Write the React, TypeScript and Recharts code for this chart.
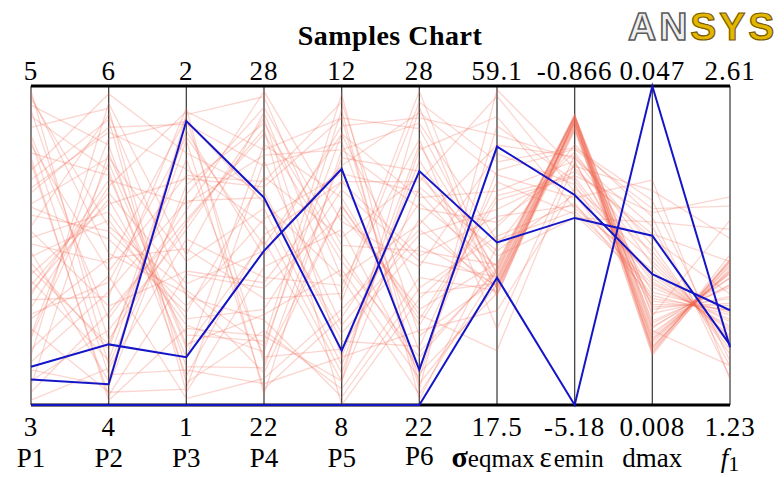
import React from 'react';
import { LineChart, Line, XAxis, YAxis, ReferenceLine } from 'recharts';

// Axis definitions
const axisKeys = ['P1', 'P2', 'P3', 'P4', 'P5', 'P6', 'seqmax', 'eemin', 'dmax', 'f1'];
const maxLabels = ['5', '6', '2', '28', '12', '28', '59.1', '-0.866', '0.047', '2.61'];
const minLabels = ['3', '4', '1', '22', '8', '22', '17.5', '-5.18', '0.008', '1.23'];

// Background samples (one value per sample, per axis)
const p1Values = [4.92, 3.15, 4.41, 3.78, 4.63, 3.42, 4.05, 3.96, 4.88, 3.27, 4.52, 3.61, 4.74, 3.08, 4.19, 3.85, 4.33, 3.54, 4.97, 3.71, 4.26, 3.35, 4.58, 3.89, 4.12, 3.22, 4.81, 3.66, 4.47, 3.03, 4.69, 3.93, 4.36, 3.48, 4.01, 3.75, 4.85, 3.12, 4.24, 3.57, 4.66, 3.31, 4.09, 3.82, 4.55, 3.44, 4.94, 3.69];
const p2Values = [5.12, 4.47, 5.79, 4.28, 4.84, 5.52, 5.21, 4.15, 5.63, 4.71, 4.06, 5.37, 5.86, 4.58, 5.09, 4.38, 5.74, 4.92, 4.25, 5.29, 5.55, 4.81, 5.44, 4.35, 5.82, 4.12, 5.47, 4.68, 5.95, 4.23, 4.54, 5.16, 5.71, 4.08, 4.89, 5.33, 4.41, 5.58, 5.04, 4.77, 4.19, 5.89, 4.62, 5.26, 4.03, 5.67, 4.95, 5.41];
const p3Values = [1.36, 1.55, 1.04, 1.83, 1.72, 1.18, 1.27, 1.91, 1.12, 1.64, 1.41, 1.92, 1.07, 1.58, 1.31, 1.77, 1.88, 1.49, 1.66, 1.22, 1.45, 1.02, 1.15, 1.86, 1.34, 1.69, 1.09, 1.93, 1.79, 1.52, 1.61, 1.25, 1.74, 1.05, 1.9, 1.38, 1.57, 1.19, 1.29, 1.84, 1.11, 1.47, 1.42, 1.71, 1.24, 1.89, 1.35, 1.63];
const p4Values = [23.1, 27.4, 24.6, 22.3, 26.2, 25.1, 23.8, 27.8, 22.7, 25.9, 24.2, 26.8, 23.4, 27.1, 25.5, 22.9, 26.5, 24.0, 27.6, 23.2, 25.7, 22.5, 26.9, 24.8, 23.6, 27.3, 25.2, 22.2, 26.0, 24.4, 27.9, 23.0, 25.4, 26.6, 22.8, 24.9, 27.2, 23.7, 26.3, 25.0, 22.4, 27.5, 24.3, 26.1, 23.3, 25.8, 22.6, 26.7];
const p5Values = [11.4, 8.6, 10.2, 9.1, 11.8, 8.3, 10.7, 9.6, 11.1, 8.9, 10.4, 11.6, 8.2, 9.8, 10.9, 8.7, 11.3, 9.4, 10.0, 11.9, 8.5, 9.2, 10.6, 11.5, 8.1, 9.9, 10.8, 11.2, 8.8, 9.5, 10.3, 11.7, 8.4, 9.0, 10.5, 11.0, 8.0, 9.7, 10.1, 11.4, 8.6, 9.3, 10.8, 11.6, 8.3, 9.6, 10.5, 11.2];
const p6Values = [24.1, 26.9, 22.6, 25.8, 23.3, 27.6, 24.7, 22.2, 26.4, 25.0, 23.8, 27.2, 24.4, 22.9, 26.0, 25.5, 23.0, 27.9, 24.9, 22.4, 26.6, 25.3, 23.5, 27.4, 24.2, 22.7, 26.2, 25.7, 23.1, 27.0, 24.6, 22.1, 26.8, 25.2, 23.7, 27.5, 24.0, 22.5, 26.3, 25.9, 23.4, 27.7, 24.8, 22.3, 26.1, 25.4, 23.6, 27.3];
const sigmaValues = [33.4, 34.8, 32.1, 35.6, 33.9, 31.7, 34.2, 35.1, 32.8, 33.1, 36.0, 34.5, 32.4, 35.3, 33.7, 31.9, 34.9, 32.6, 35.8, 33.2, 34.0, 32.9, 44.2, 52.7, 39.5, 48.1, 57.8, 41.3, 46.6, 27.4, 50.3, 38.2, 55.1, 43.0, 24.6, 47.5, 40.7, 53.9, 36.9, 45.4, 29.8, 49.2, 42.1, 58.6, 37.6, 51.4, 44.8, 39.0];
const epsValues = [-1.28, -1.35, -1.31, -1.26, -1.42, -1.30, -1.37, -1.27, -1.33, -1.45, -1.29, -1.38, -1.32, -1.25, -1.40, -1.34, -1.28, -1.47, -1.31, -1.36, -1.27, -1.43, -2.10, -1.85, -2.45, -1.72, -2.30, -1.95, -2.60, -1.80, -2.20, -1.66, -2.52, -2.02, -1.90, -2.38, -1.76, -2.15, -2.65, -1.88, -2.25, -1.70, -2.48, -1.98, -2.33, -1.82, -2.08, -2.56];
const dmaxValues = [0.0145, 0.0168, 0.0152, 0.0189, 0.0141, 0.0176, 0.0158, 0.0197, 0.0149, 0.0183, 0.0162, 0.0143, 0.0171, 0.0155, 0.0192, 0.0147, 0.018, 0.016, 0.02, 0.015, 0.0174, 0.0165, 0.0235, 0.0298, 0.021, 0.032, 0.0256, 0.0342, 0.0224, 0.0275, 0.0203, 0.031, 0.0245, 0.0289, 0.0218, 0.0355, 0.0262, 0.0231, 0.0304, 0.0207, 0.0268, 0.033, 0.024, 0.0283, 0.0214, 0.0251, 0.0315, 0.0228];
const f1Values = [1.84, 1.78, 1.82, 2.03, 1.86, 1.75, 1.81, 1.69, 1.85, 1.74, 1.8, 1.88, 1.4, 1.83, 1.7, 1.86, 1.75, 1.81, 1.67, 1.85, 1.78, 1.8, 1.56, 1.4, 1.64, 2.09, 1.51, 1.95, 1.6, 1.45, 1.66, 1.35, 1.53, 1.85, 1.63, 1.34, 1.49, 1.57, 1.99, 1.64, 1.47, 1.42, 1.55, 1.71, 1.62, 1.52, 2.13, 1.59];

// Highlighted samples (values in axis order)
const sampleA = [3.24, 4.38, 1.15, 24.9, 10.96, 22.66, 51.2, -2.34, 0.024, 1.64];
const sampleB = [3.16, 4.13, 1.89, 25.9, 8.68, 26.4, 38.7, -2.65, 0.0287, 1.49];
const sampleC = [3, 4, 1, 22, 8, 22, 34.1, -5.18, 0.047, 1.48];

const columns = [p1Values, p2Values, p3Values, p4Values, p5Values, p6Values, sigmaValues, epsValues, dmaxValues, f1Values];
const highlighted = [sampleA, sampleB, sampleC];

const rows = axisKeys.map((k, i) => {
  const lo = Number(minLabels[i]);
  const hi = Number(maxLabels[i]);
  const row: Record<string, any> = { axis: k };
  columns[i].forEach((v, j) => {
    row['r' + j] = (v - lo) / (hi - lo);
  });
  highlighted.forEach((s, j) => {
    row['b' + j] = (s[i] - lo) / (hi - lo);
  });
  return row;
});

const SERIF = 'Liberation Serif, Tinos, DejaVu Serif, serif';
const serifStyle: React.CSSProperties = { fontFamily: SERIF };

const TopTick = (props: any) => {
  const { x, payload } = props;
  return (
    <text x={x} y={80} textAnchor="middle" style={serifStyle} fontSize={27} letterSpacing={1} fill="#000">
      {maxLabels[payload.index]}
    </text>
  );
};

const nameNode = (i: number) => {
  switch (axisKeys[i]) {
    case 'seqmax':
      return (
        <>
          <tspan fontSize={30} fontWeight="bold">σ</tspan>
          <tspan fontSize={25}>eqmax</tspan>
        </>
      );
    case 'eemin':
      return (
        <>
          <tspan fontSize={29}>ε</tspan>
          <tspan dx={2} fontSize={25}>emin</tspan>
        </>
      );
    case 'f1':
      return (
        <>
          <tspan fontStyle="italic" fontSize={27}>f</tspan>
          <tspan fontSize={22} dy={4}>1</tspan>
        </>
      );
    default:
      return axisKeys[i];
  }
};

const BottomTick = (props: any) => {
  const { x, payload } = props;
  const i = payload.index;
  const key = axisKeys[i];
  const dx = key === 'seqmax' ? -4 : key === 'eemin' ? -3 : 0;
  const y = key === 'P6' ? 465 : 467;
  return (
    <g>
      <text x={x} y={436} textAnchor="middle" style={serifStyle} fontSize={27} letterSpacing={1} fill="#000">
        {minLabels[i]}
      </text>
      <text x={x + dx} y={y} textAnchor="middle" style={serifStyle} fontSize={27} fill="#000">
        {nameNode(i)}
      </text>
    </g>
  );
};

export default function App() {
  return (
    <div style={{ position: 'absolute', left: 0, top: 0, width: 784, height: 477, background: '#fff' }}>
      <LineChart width={784} height={477} data={rows} margin={{ top: 0, right: 54, bottom: 0, left: 31 }}>
        <XAxis xAxisId="top" orientation="top" dataKey="axis" height={86} interval={0} axisLine={false} tickLine={false} tick={<TopTick />} />
        <XAxis xAxisId="bottom" orientation="bottom" dataKey="axis" height={72} interval={0} axisLine={false} tickLine={false} tick={<BottomTick />} />
        <YAxis hide domain={[0, 1]} />
        {axisKeys.map((k) => (
          <ReferenceLine key={'v' + k} xAxisId="bottom" x={k} stroke="#444" strokeWidth={1.3} />
        ))}
        <ReferenceLine xAxisId="bottom" y={1} stroke="#000" strokeWidth={3} />
        <ReferenceLine xAxisId="bottom" y={0} stroke="#000" strokeWidth={3} />
        {p1Values.map((_, j) => (
          <Line
            key={'r' + j}
            xAxisId="bottom"
            dataKey={'r' + j}
            stroke="#f26b55"
            strokeOpacity={0.28}
            strokeWidth={1.3}
            dot={false}
            activeDot={false}
            isAnimationActive={false}
          />
        ))}
        {highlighted.map((_, j) => (
          <Line
            key={'b' + j}
            xAxisId="bottom"
            dataKey={'b' + j}
            stroke="#1515c8"
            strokeWidth={2}
            dot={false}
            activeDot={false}
            isAnimationActive={false}
          />
        ))}
      </LineChart>
      <svg width={784} height={477} style={{ position: 'absolute', left: 0, top: 0, pointerEvents: 'none' }}>
        <text x={390} y={45} textAnchor="middle" style={serifStyle} fontWeight="bold" fontSize={28} letterSpacing={0.5} fill="#000">
          Samples Chart
        </text>
        <text x={628} y={40} style={{ fontFamily: 'Liberation Sans, Arial, sans-serif' }} fontWeight="bold" fontSize={39} letterSpacing={3}>
          <tspan fill="#efefef" stroke="#5a5a5a" strokeWidth={1.6}>AN</tspan>
          <tspan fill="#e3b600" stroke="#7a5a00" strokeWidth={1.2}>SYS</tspan>
        </text>
      </svg>
    </div>
  );
}
